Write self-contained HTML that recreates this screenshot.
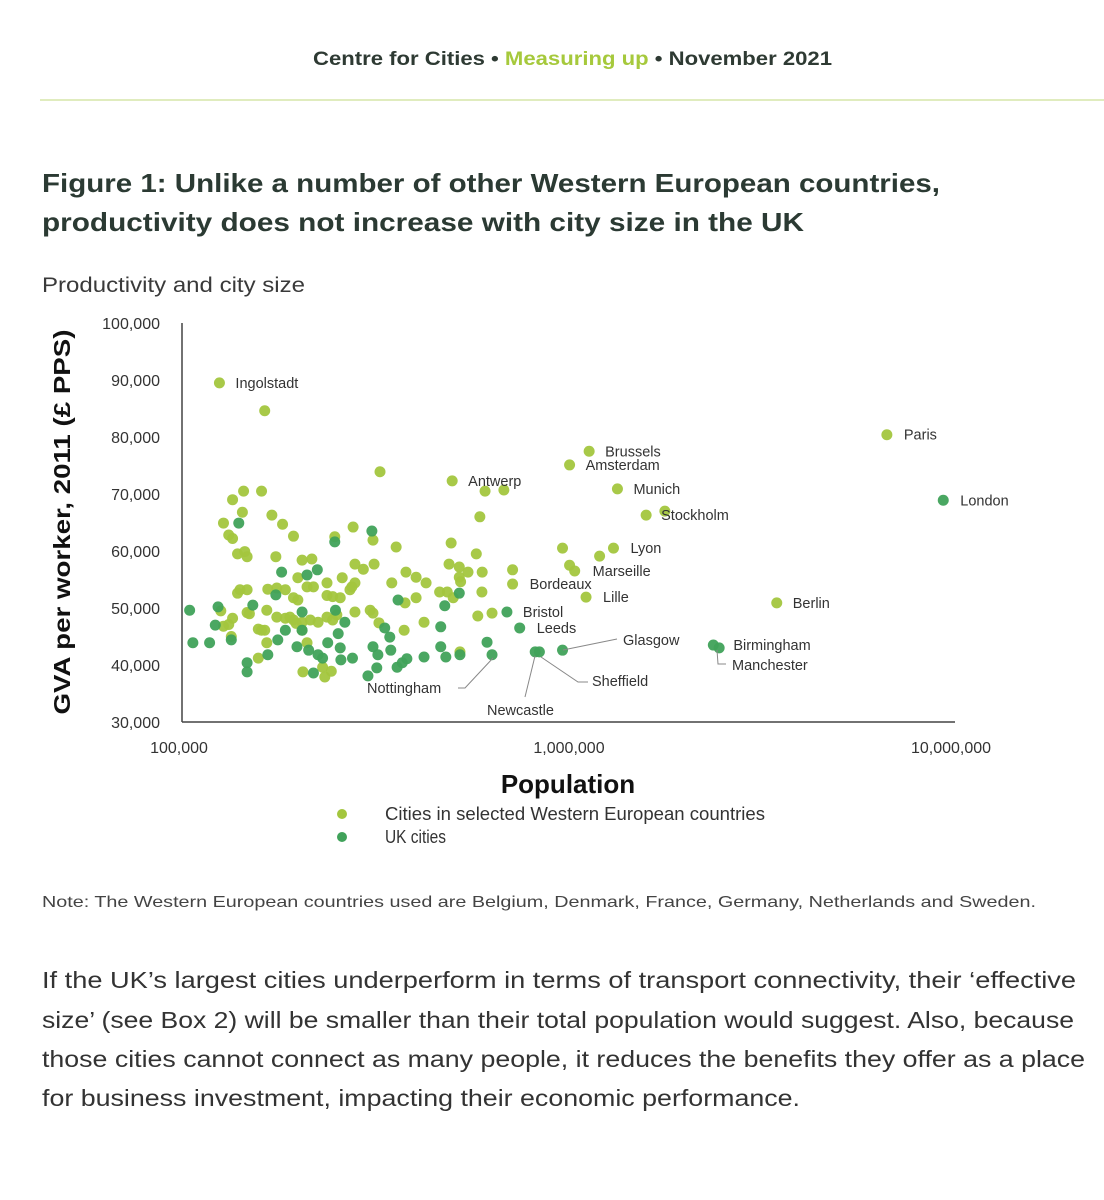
<!DOCTYPE html>
<html><head><meta charset="utf-8"><style>
body{margin:0;background:#fff;}
svg{display:block;font-family:"Liberation Sans",sans-serif;}
</style></head><body>
<svg id="chart" width="1104" height="1200" viewBox="0 0 1104 1200">
<text x="313" y="65" font-size="19" font-weight="bold" fill="#2e3a33" textLength="519" lengthAdjust="spacingAndGlyphs">Centre for Cities • <tspan fill="#a6c93c">Measuring up</tspan> • November 2021</text>
<line x1="40" y1="100" x2="1104" y2="100" stroke="#d5e6a8" stroke-width="1.5"/>
<text x="42" y="192" font-size="26" font-weight="bold" fill="#2b3a33" textLength="898" lengthAdjust="spacingAndGlyphs">Figure 1: Unlike a number of other Western European countries,</text>
<text x="42" y="231" font-size="26" font-weight="bold" fill="#2b3a33" textLength="762" lengthAdjust="spacingAndGlyphs">productivity does not increase with city size in the UK</text>
<text x="42" y="292" font-size="21" fill="#3a3a3a" textLength="263" lengthAdjust="spacingAndGlyphs">Productivity and city size</text>
<g id="axes"></g>
<g id="marks"></g>
<text x="0" y="0" transform="translate(70,522) rotate(-90)" text-anchor="middle" font-size="23" font-weight="bold" fill="#111" textLength="385" lengthAdjust="spacingAndGlyphs">GVA per worker, 2011 (£ PPS)</text>
<text x="568" y="793" text-anchor="middle" font-size="26" font-weight="bold" fill="#111">Population</text>
<circle cx="342" cy="814" r="5" fill="#a3c63e"/>
<text x="385" y="820" font-size="18" fill="#333" textLength="380" lengthAdjust="spacingAndGlyphs">Cities in selected Western European countries</text>
<circle cx="342" cy="837" r="5" fill="#40a25a"/>
<text x="385" y="843" font-size="18" fill="#333" textLength="61" lengthAdjust="spacingAndGlyphs">UK cities</text>
<text x="42" y="907" font-size="16" fill="#444" textLength="994" lengthAdjust="spacingAndGlyphs">Note: The Western European countries used are Belgium, Denmark, France, Germany, Netherlands and Sweden.</text>
<g font-size="23" fill="#333">
<text x="42" y="988" textLength="1034" lengthAdjust="spacingAndGlyphs">If the UK’s largest cities underperform in terms of transport connectivity, their ‘effective</text>
<text x="42" y="1028" textLength="1032" lengthAdjust="spacingAndGlyphs">size’ (see Box 2) will be smaller than their total population would suggest. Also, because</text>
<text x="42" y="1067" textLength="1043" lengthAdjust="spacingAndGlyphs">those cities cannot connect as many people, it reduces the benefits they offer as a place</text>
<text x="42" y="1106" textLength="758" lengthAdjust="spacingAndGlyphs">for business investment, impacting their economic performance.</text>
</g>
</svg>
<script>
// population in thousands, GVA per worker in £ thousands
const euroPop = [124,162,320,490,595,665,577,1100,980,1300,1540,1720,1270,1170,940,980,1010,1080,700,700,3330,6380,
143,159,134,142,169,180,127,131,134,192,245,273,307,352,487,565,138,144,146,173,214,202,197,256,276,290,309,373,396,420,481,511,538,511,515,343,208,216,234,271,276,140,146,138,165,174,183,192,197,234,242,253,268,455,476,493,371,396,584,125,146,148,164,174,183,192,202,212,222,188,195,202,234,242,248,276,302,307,318,369,415,570,127,131,134,133,156,159,162,164,208,228,240,231,203,156,513,585,620];
const euroGva = [89.5,84.6,73.9,72.3,70.5,70.7,66,77.5,75.1,70.9,66.3,67,60.5,59.1,60.5,57.5,56.5,51.9,54.2,56.7,50.9,80.4,
70.5,70.5,69,66.8,66.3,64.7,64.9,62.8,62.2,62.6,62.5,64.2,61.9,60.7,61.4,59.5,59.5,59.9,59,59,58.6,58.4,55.3,55.3,57.7,56.8,57.7,56.3,55.4,54.4,57.7,57.2,56.3,55.4,54.6,54.4,53.7,53.7,54.4,53.7,54.4,53.2,53.2,52.6,53.3,53.5,53.2,51.8,51.4,52.2,52,51.8,53.2,52.8,52.8,51.8,50.9,51.8,52.8,49.5,49.2,49,49.6,48.4,48.2,47.9,47.5,47.9,47.5,48.4,47.3,46.1,48.4,47.9,48.8,49.3,49.6,49.1,47.4,46.1,47.5,48.6,46.8,47.1,48.2,45,46.3,46.1,46.1,43.9,43.9,39.6,38.9,37.9,38.8,41.2,42.3,56.3,49.1];
const ukPop = [677,730,940,800,820,620,2290,2370,8900,139,245,305,179,208,221,173,511,356,469,104,123,151,202,246,260,329,339,458,602,121,106,117,133,175,183,196,202,210,222,228,235,253,254,272,216,165,146,146,307,316,341,314,298,354,365,375,415,458,472,513,250];
const ukGva = [49.3,46.5,42.6,42.3,42.3,41.8,43.5,43,68.9,64.9,61.6,63.5,56.3,55.8,56.7,52.3,52.6,51.4,50.4,49.6,50.2,50.5,49.3,49.6,47.5,46.5,44.9,46.7,44,47,43.9,43.9,44.4,44.4,46.1,43.2,46.1,42.6,41.8,41.2,43.9,43,40.9,41.2,38.6,41.8,40.4,38.8,43.2,41.8,42.6,39.5,38.1,39.6,40.4,41.1,41.4,43.2,41.4,41.8,45.5];
const yTicks = [30,40,50,60,70,80,90,100];
const yTickLabels = ["30,000","40,000","50,000","60,000","70,000","80,000","90,000","100,000"];
const xTicks = [100,1000,10000];
const xTickLabels = ["100,000","1,000,000","10,000,000"];
const labelNames = ["Ingolstadt","Antwerp","Brussels","Amsterdam","Munich","Stockholm","Paris","London","Lyon","Marseille","Lille","Bordeaux","Berlin","Bristol","Leeds","Birmingham"];
const labelPop = [124,490,1100,980,1300,1540,6380,8900,1270,1010,1080,700,3330,677,730,2290];
const labelGva = [89.5,72.3,77.5,75.1,70.9,66.3,80.4,68.9,60.5,56.5,51.9,54.2,50.9,49.3,46.5,43.5];

const NS = "http://www.w3.org/2000/svg";
function xS(p){ return 183 + 390*Math.log10(p/100); }
function yS(g){ return 722 - (g-30)*5.7; }
function mk(tag, attrs, parent){ const e=document.createElementNS(NS,tag); for(const k in attrs) e.setAttribute(k,attrs[k]); parent.appendChild(e); return e; }
const axes=document.getElementById('axes'), marks=document.getElementById('marks');
let a=mk('line',{x1:182,y1:323,x2:182,y2:722,stroke:'#444','stroke-width':1.5},axes);


a=mk('line',{x1:182,y1:722,x2:955,y2:722,stroke:'#444','stroke-width':1.5},axes);


yTicks.forEach((v,i)=>{
  const t=mk('text',{x:160,y:yS(v)+6,'text-anchor':'end','font-size':16,fill:'#333'},axes);
  t.textContent=yTickLabels[i];
  
  
});
xTicks.forEach((v,i)=>{
  const t=mk('text',{x:i==2?xS(v)-12:xS(v)-4,y:753,'text-anchor':'middle','font-size':16,fill:'#333'},axes);
  t.textContent=xTickLabels[i];
  
  
});
euroPop.forEach((p,i)=>{
  const c=mk('circle',{cx:xS(p),cy:yS(euroGva[i]),r:5.5,fill:'#a3c63e','fill-opacity':0.95},marks);
  
  
});
ukPop.forEach((p,i)=>{
  const c=mk('circle',{cx:xS(p),cy:yS(ukGva[i]),r:5.5,fill:'#40a25a','fill-opacity':0.95},marks);
  
  
});
const offs={Ingolstadt:16,Antwerp:16,Brussels:16,Amsterdam:16,Munich:16,Stockholm:15,Paris:17,London:17,Lyon:17,Marseille:18,Lille:17,Bordeaux:17,Berlin:16,Bristol:16,Leeds:17,Birmingham:20};
labelNames.forEach((n,i)=>{
  const t=mk('text',{x:xS(labelPop[i])+offs[n],y:yS(labelGva[i])+5,'font-size':14.5,fill:'#333'},marks);
  t.textContent=n;
  
  
});
const extra=[["Manchester",732,670],["Glasgow",623,645],["Sheffield",592,686],["Nottingham",367,693],["Newcastle",487,715]];
extra.forEach(e=>{
  const t=mk('text',{x:e[1],y:e[2],'font-size':14.5,fill:'#333'},marks);
  t.textContent=e[0];
  
  
});
const leaders=["563,650 617,639","541,657 578,682 588,682","535,656 525,697","717,650 718,664 726,664","458,688 465,688 493,658"];
leaders.forEach(pts=>{
  const l=mk('polyline',{points:pts,fill:'none',stroke:'#888','stroke-width':1},marks);
  
  
});
</script>
</body></html>
